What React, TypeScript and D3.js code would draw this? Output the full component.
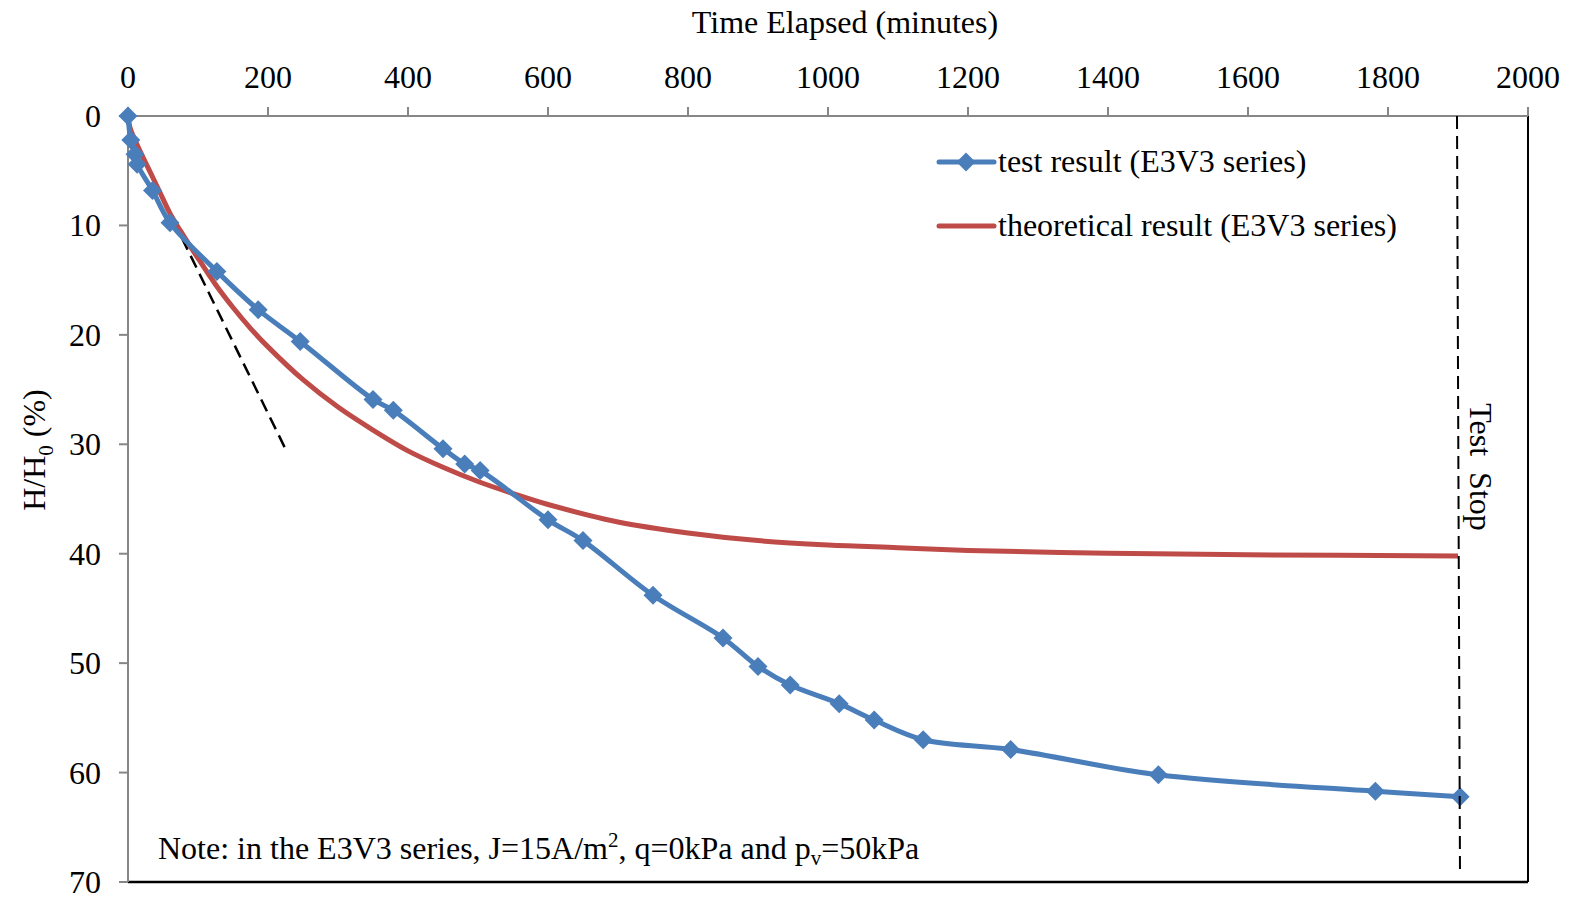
import React from "react";
import * as d3 from "d3";

const xTicks = [0, 200, 400, 600, 800, 1000, 1200, 1400, 1600, 1800, 2000];
const yTicks = [0, 10, 20, 30, 40, 50, 60, 70];

const testTime = [0, 4, 10, 13, 35, 60, 127, 186, 246, 350, 379, 450, 481, 503, 600, 650, 750, 850, 900, 946, 1016, 1066, 1136, 1261, 1472, 1782, 1903];
const testValue = [0, 2.2, 3.5, 4.4, 6.8, 9.75, 14.2, 17.7, 20.6, 25.9, 26.9, 30.4, 31.8, 32.4, 36.9, 38.8, 43.8, 47.7, 50.3, 52.0, 53.7, 55.2, 57.0, 57.9, 60.2, 61.7, 62.2];

const theoryTime = [0, 3, 15, 30, 45, 60, 75, 100, 125, 150, 175, 200, 250, 300, 350, 400, 450, 500, 550, 600, 700, 800, 900, 1000, 1100, 1200, 1300, 1400, 1600, 1900];
const theoryValue = [0, 1.1, 2.9, 4.9, 6.9, 8.9, 10.5, 13.0, 15.4, 17.5, 19.4, 21.1, 24.1, 26.6, 28.7, 30.6, 32.1, 33.4, 34.5, 35.5, 37.1, 38.1, 38.8, 39.2, 39.45, 39.7, 39.85, 39.95, 40.1, 40.2];

const tangentTime = [1.4, 224];
const tangentValue = [1.3, 30.3];

const stopTime = 1900;

const FONT = "'Liberation Serif', 'Times New Roman', serif";

export default function App() {
  const left = 128, top = 116, right = 1528, bottom = 882;
  const x = d3.scaleLinear().domain([0, 2000]).range([left, right]);
  const y = d3.scaleLinear().domain([0, 70]).range([top, bottom]);

  const testData = testTime.map((t, i) => [t, testValue[i]] as [number, number]);
  const theoryData = theoryTime.map((t, i) => [t, theoryValue[i]] as [number, number]);

  const line = d3.line<[number, number]>()
    .x(d => x(d[0]))
    .y(d => y(d[1]))
    .curve(d3.curveCatmullRom.alpha(0.5));

  const blue = "#4A7EBB";
  const red = "#BE4B48";
  const axisGray = "#868686";
  const r = 9.5;
  const diamond = `M0,${-r}L${r},0L0,${r}L${-r},0Z`;
  const fs = 32;

  return (
    <svg width={1571} height={899} style={{ position: "absolute", left: 0, top: 0, background: "#fff" }} fontFamily={FONT}>
      <line x1={right} y1={top} x2={right} y2={bottom} stroke="#000" strokeWidth={2} />
      <line x1={left} y1={bottom} x2={right} y2={bottom} stroke="#000" strokeWidth={2.5} />
      <line x1={left} y1={top} x2={right} y2={top} stroke={axisGray} strokeWidth={2} />
      {xTicks.map(t => (
        <g key={"xt" + t}>
          <line x1={x(t)} x2={x(t)} y1={top - 9} y2={top} stroke={axisGray} strokeWidth={2} />
          <text x={x(t)} y={88} textAnchor="middle" fontSize={fs} fill="#000">{t}</text>
        </g>
      ))}
      <text x={845} y={33} textAnchor="middle" fontSize={fs} fill="#000">Time Elapsed (minutes)</text>
      <line x1={left} y1={top} x2={left} y2={bottom} stroke={axisGray} strokeWidth={2} />
      {yTicks.map(t => (
        <g key={"yt" + t}>
          <line x1={left - 9} x2={left} y1={y(t)} y2={y(t)} stroke={axisGray} strokeWidth={2} />
          <text x={101} y={y(t) + 11} textAnchor="end" fontSize={fs} fill="#000">{t}</text>
        </g>
      ))}
      <text transform="translate(45,450) rotate(-90)" textAnchor="middle" fontSize={fs} fill="#000">
        H/H<tspan fontSize={21} dy={8}>0</tspan><tspan dy={-8}> (%)</tspan>
      </text>

      <line x1={x(tangentTime[0])} y1={y(tangentValue[0])} x2={x(tangentTime[1])} y2={y(tangentValue[1])}
        stroke="#000" strokeWidth={2.5} strokeDasharray="13,7" />

      <path d={line(theoryData) || ""} fill="none" stroke={red} strokeWidth={5} />
      <path d={line(testData) || ""} fill="none" stroke={blue} strokeWidth={5} />
      {testData.map((d, i) => (
        <path key={"m" + i} d={diamond} transform={`translate(${x(d[0])},${y(d[1])})`} fill={blue} />
      ))}

      <line x1={x(stopTime) - 1} y1={top} x2={x(stopTime) + 2} y2={bottom - 6} stroke="#000" strokeWidth={2} strokeDasharray="13,7" />
      <text transform="translate(1470,467) rotate(90)" textAnchor="middle" fontSize={fs} fill="#000" style={{ whiteSpace: "pre" }}>{"Test  Stop"}</text>

      <line x1={939} x2={994} y1={162} y2={162} stroke={blue} strokeWidth={5} strokeLinecap="round" />
      <path d={diamond} transform="translate(966,162)" fill={blue} />
      <text x={998} y={172} fontSize={fs} fill="#000">test result (E3V3 series)</text>
      <line x1={939} x2={994} y1={226} y2={226} stroke={red} strokeWidth={5} strokeLinecap="round" />
      <text x={998} y={236} fontSize={fs} fill="#000">theoretical result (E3V3 series)</text>

      <text x={158} y={859} fontSize={fs} fill="#000">
        Note: in the E3V3 series, J=15A/m<tspan fontSize={21} dy={-12}>2</tspan><tspan dy={12}>, q=0kPa and p</tspan><tspan fontSize={21} dy={6}>v</tspan><tspan dy={-6}>=50kPa</tspan>
      </text>
    </svg>
  );
}
